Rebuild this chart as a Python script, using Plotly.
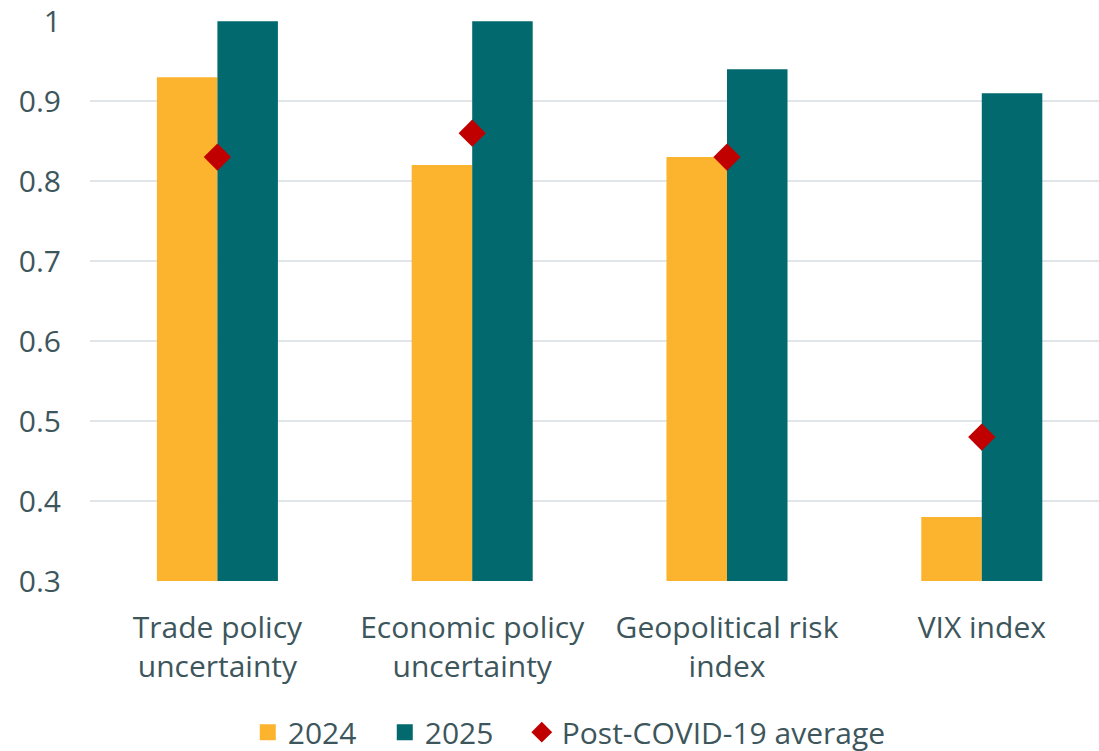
import plotly.graph_objects as go

categories = ["Trade policy<br>uncertainty", "Economic policy<br>uncertainty", "Geopolitical risk<br>index", "VIX index"]
values_2024 = [0.93, 0.82, 0.83, 0.38]
values_2025 = [1.0, 1.0, 0.94, 0.91]
post_covid_avg = [0.83, 0.86, 0.83, 0.48]
series_names = ["2024", "2025", "Post-COVID-19 average"]

text_color = "#3d565c"
font_family = "Open Sans, sans-serif"
fs = 30
c2024, c2025, cavg = "#fcb32e", "#02696e", "#c00000"
pad = "\u00a0\u00a0\u00a0"

fig = go.Figure()
fig.add_trace(go.Bar(x=categories, y=values_2024, name=series_names[0], showlegend=False,
                     marker=dict(color=c2024, line=dict(width=0))))
fig.add_trace(go.Bar(x=categories, y=values_2025, name=series_names[1], showlegend=False,
                     marker=dict(color=c2025, line=dict(width=0))))
fig.add_trace(go.Scatter(x=categories, y=post_covid_avg, name=series_names[2], mode="markers", showlegend=False,
                         marker=dict(symbol="diamond", size=21, color=cavg)))
# legend entries
fig.add_trace(go.Scatter(x=[None], y=[None], mode="markers", name=series_names[0] + pad,
                         marker=dict(symbol="square", size=19, color=c2024)))
fig.add_trace(go.Scatter(x=[None], y=[None], mode="markers", name=series_names[1] + pad,
                         marker=dict(symbol="square", size=19, color=c2025)))
fig.add_trace(go.Scatter(x=[None], y=[None], mode="markers", name=series_names[2],
                         marker=dict(symbol="diamond", size=19, color=cavg)))

fig.update_layout(
    width=1099, height=751,
    margin=dict(l=90, r=0, t=21, b=170, autoexpand=False),
    paper_bgcolor="white", plot_bgcolor="white",
    barmode="group", bargap=0.525, bargroupgap=0,
    font=dict(family=font_family, size=fs, color=text_color),
    legend=dict(orientation="h", x=0.475, xanchor="center", y=-0.27, yanchor="middle",
                font=dict(size=fs, color=text_color), itemwidth=30, itemsizing="trace",
                traceorder="normal"),
    xaxis=dict(range=[-0.5, 3.46], showgrid=False, showline=False, ticks="", automargin=False,
               ticklabelstandoff=26, tickfont=dict(size=fs, color=text_color)),
    yaxis=dict(range=[0.3, 1.0002], dtick=0.1, tick0=0.3, showgrid=True, gridcolor="#dfe5e8", gridwidth=2,
               zeroline=False, showline=False, ticks="", ticklabelstandoff=28, automargin=False,
               ticklabeloverflow="allow",
               tickformat=".1~f", tickfont=dict(size=fs, color=text_color)),
)

fig.write_html("out.html", config={"displayModeBar": False},
               post_script="document.body.style.margin='0';document.body.style.overflow='hidden';")
